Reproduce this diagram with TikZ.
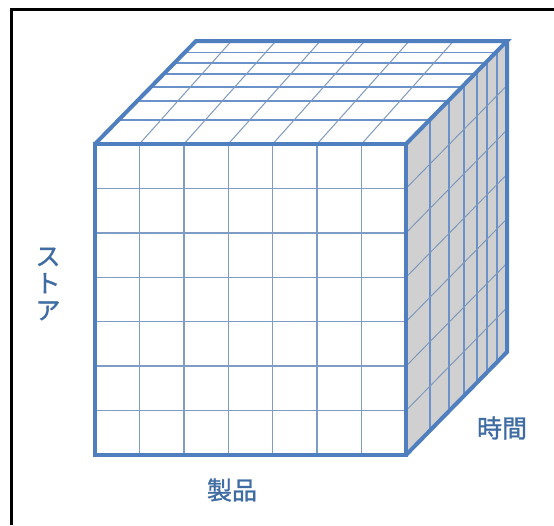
\documentclass[tikz,border=0pt]{standalone}
\usepackage{fontspec}
\newfontfamily\jp[FakeBold=1.2]{Noto Sans CJK JP}
\definecolor{edgeblue}{HTML}{4F7FBF}
\definecolor{gridblue}{HTML}{7E9CC4}
\definecolor{depthblue}{HTML}{6B91CA}
\definecolor{sidegray}{HTML}{D0D0D0}
\definecolor{labblue}{HTML}{3F6CA3}
\tikzset{
  cubeedge/.style={draw=edgeblue,line width=4pt,line join=miter},
  fgrid/.style={draw=gridblue,line width=1.3pt},
  dgrid/.style={draw=depthblue,line width=1.6pt},
  thin grid/.style={draw=gridblue!90!gray,line width=1pt},
  lab/.style={text=labblue,font=\jp\fontsize{25}{27}\selectfont,inner sep=0pt,align=center}
}
\begin{document}
\begin{tikzpicture}[x=1pt,y=-1pt]
\useasboundingbox (0,0) rectangle (554,525);
\fill[white] (0,0) rectangle (554,525);
\draw[line width=3pt] (11,525) -- (11,9) -- (554,9);
% corners
\coordinate (FTL) at (95,144);
\coordinate (FTR) at (406,144);
\coordinate (FBR) at (406,455);
\coordinate (FBL) at (95,455);
\coordinate (BTL) at (196,41);
\coordinate (BTR) at (507,41);
\coordinate (BBR) at (507,352);
% faces
\fill[white] (FTL) -- (BTL) -- (BTR) -- (FTR) -- cycle;
\fill[sidegray] (FTR) -- (BTR) -- (BBR) -- (FBR) -- cycle;
% front grid
\foreach \i in {1,...,6}{
  \pgfmathsetmacro{\gx}{95+\i*311/7}
  \pgfmathsetmacro{\gy}{144+\i*311/7}
  \draw[fgrid] (\gx,144) -- (\gx,455);
  \draw[fgrid] (95,\gy) -- (406,\gy);
}
% top face
\foreach \d in {24,43,57,70,81,91.5}{
  \pgfmathsetmacro{\sx}{\d*101/103}
  \draw[dgrid] ({95+\sx},{144-\d}) -- ({406+\sx},{144-\d});
}
\foreach \i in {1,...,6}{
  \pgfmathsetmacro{\gx}{95+\i*311/7}
  \draw[thin grid] (\gx,144) -- ({\gx+92},41);
}
% right face
\foreach \d in {24,43,58,71,81,91}{
  \pgfmathsetmacro{\sy}{\d*103/101}
  \draw[dgrid] ({406+\d},{144-\sy}) -- ({406+\d},{455-\sy});
}
\foreach \j in {1,...,6}{
  \pgfmathsetmacro{\gy}{144+\j*311/7}
  \draw[thin grid] (406,\gy) -- (507,{\gy-103});
}
% edges
\draw[cubeedge] (FTL) rectangle (FBR);
\draw[cubeedge] (FTL) -- (BTL) -- (BTR) -- (FTR);
\draw[cubeedge] (BTR) -- (BBR) -- (FBR);
% labels
\node[lab] (store) at (48,284) {ス\\ト\\ア};
\node[lab] (product) at (232,490) {製品};
\node[lab] (time) at (502,428) {時間};
\end{tikzpicture}
\end{document}
